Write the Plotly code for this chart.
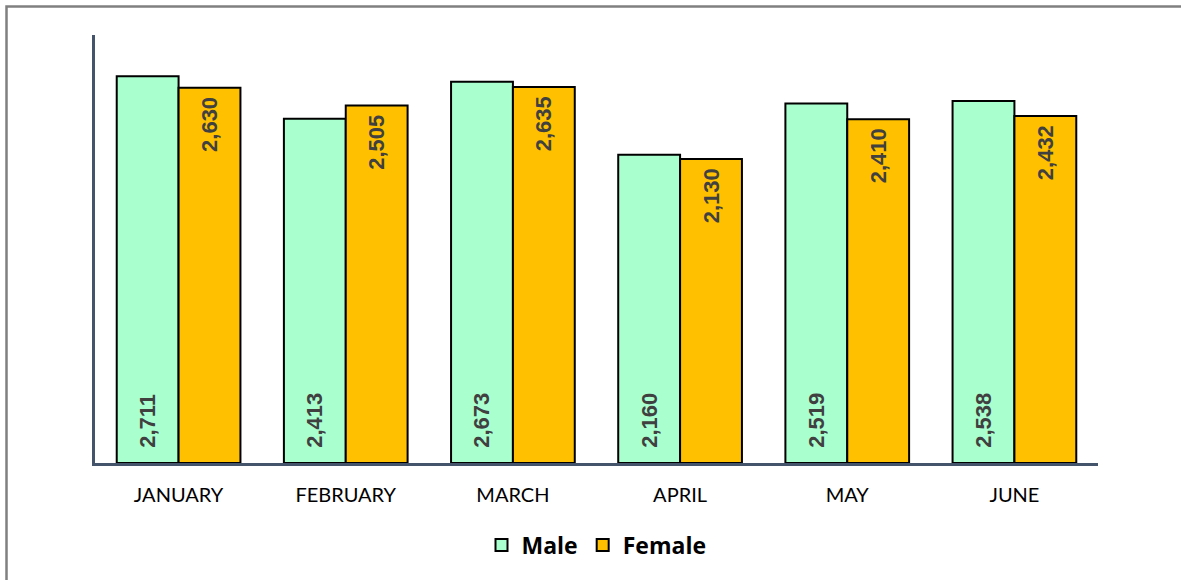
import plotly.graph_objects as go

months = ["JANUARY", "FEBRUARY", "MARCH", "APRIL", "MAY", "JUNE"]
male = [2711, 2413, 2673, 2160, 2519, 2538]
female = [2630, 2505, 2635, 2130, 2410, 2432]

L, R, T, B = 95, 1098, 35, 463
W, H = 1181, 580
pw, ph = R - L, B - T

def px(x):
    return (x - L) / pw

def py(y):
    return (B - y) / ph

NB = "\u00a0"
label_font = dict(family="Liberation Sans, Arial", size=22, color="#404040", weight="bold")

fig = go.Figure()
fig.add_trace(go.Bar(
    name="Male", x=months, y=male,
    marker=dict(color="#AAFFCF", line=dict(color="#000000", width=2)),
    text=[NB * 2 + f"{v:,}" for v in male], textposition="inside", insidetextanchor="start",
    textangle=-90, textfont=label_font, cliponaxis=False,
))
fig.add_trace(go.Bar(
    name="Female", x=months, y=female,
    marker=dict(color="#FFC000", line=dict(color="#000000", width=2)),
    text=[f"{v:,}" + NB for v in female], textposition="inside", insidetextanchor="end",
    textangle=-90, textfont=label_font, cliponaxis=False,
))

fig.update_layout(
    width=W, height=H,
    margin=dict(l=L, r=W - R, t=T, b=H - B),
    paper_bgcolor="white", plot_bgcolor="white",
    barmode="group", bargap=0.26, bargroupgap=0,
    xaxis=dict(
        showline=True, linecolor="#44546A", linewidth=2.5,
        tickfont=dict(family="Lato, Open Sans", size=20, color="#000000"),
        ticks="", showgrid=False, ticklabelstandoff=12,
    ),
    yaxis=dict(
        range=[0, 3000], showline=True, linecolor="#44546A", linewidth=2.5,
        showticklabels=False, ticks="", showgrid=False, zeroline=False,
    ),
    legend=dict(
        orientation="h", x=0.5, xanchor="center", y=py(545), yanchor="middle",
        font=dict(family="Open Sans, Lato", size=23, color="#000000", weight="bold"),
        traceorder="normal",
    ),
    showlegend=True,
    shapes=[dict(
        type="rect", xref="paper", yref="paper",
        x0=px(6.5), x1=px(1190), y0=py(6.5), y1=py(590),
        line=dict(color="#808080", width=2.5), layer="above",
    )],
)

fig.write_html("out.html", config={"displayModeBar": False},
               post_script="document.body.style.margin='0';")
